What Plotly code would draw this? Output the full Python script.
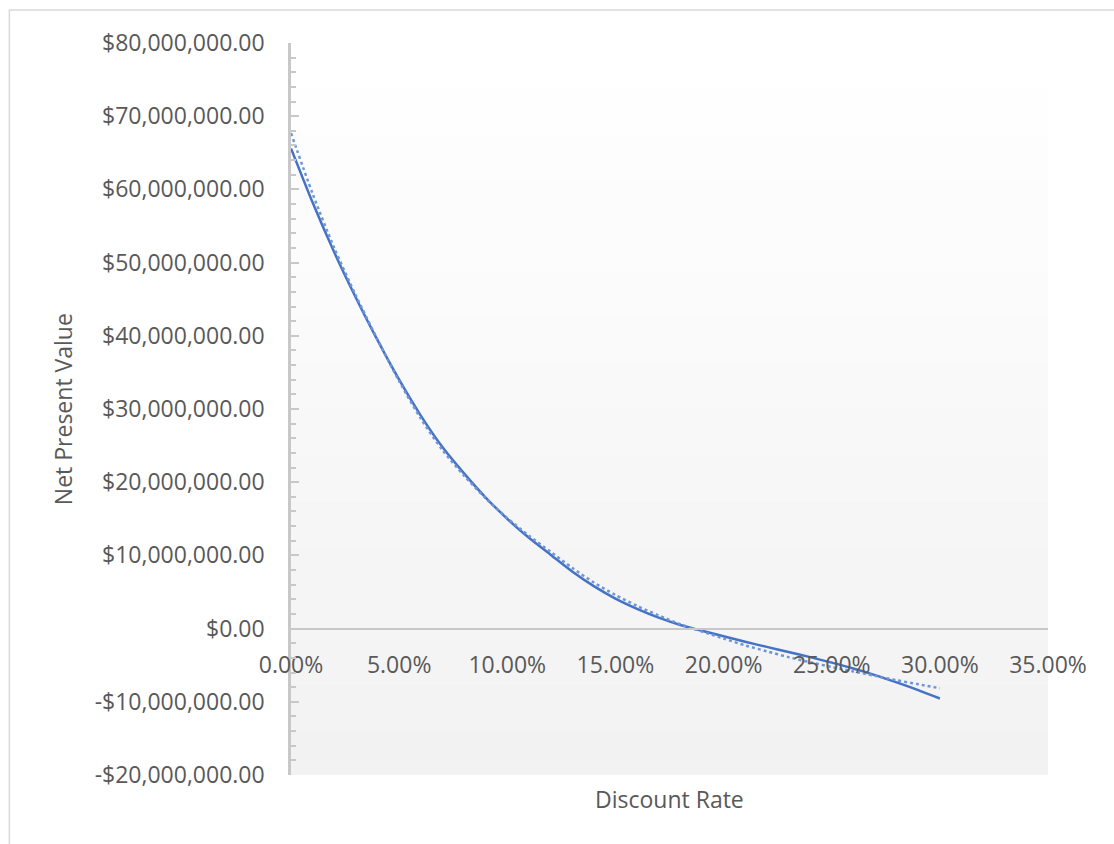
import plotly.graph_objects as go

# Discount rates (fraction) and the resulting net present value, in $ millions
rates = [i / 100 for i in range(0, 31)]
npv_millions = [65.6, 58.2, 51.4, 45.2, 39.4, 34.0, 29.1, 24.8, 21.2, 17.9,
                15.0, 12.4, 10.1, 7.8, 5.8, 4.1, 2.7, 1.5, 0.5, -0.3,
                -1.05, -1.8, -2.5, -3.2, -3.9, -4.65, -5.45, -6.35, -7.35, -8.4,
                -9.55]
# Polynomial trendline of the NPV profile, in $ millions
trend_millions = [67.7, 59.4, 52.0, 45.5, 39.5, 33.8, 28.7, 24.4, 20.9, 17.8,
                  15.1, 12.7, 10.5, 8.3, 6.3, 4.6, 3.1, 1.8, 0.6, -0.4,
                  -1.35, -2.3, -3.1, -3.9, -4.6, -5.25, -5.85, -6.45, -7.05, -7.6,
                  -8.15]
npv = [v * 1e6 for v in npv_millions]
trend = [v * 1e6 for v in trend_millions]

# Axis ticks
x_tickvals = [0.0, 0.05, 0.10, 0.15, 0.20, 0.25, 0.30, 0.35]
x_ticktext = ["0.00%", "5.00%", "10.00%", "15.00%", "20.00%", "25.00%", "30.00%", "35.00%"]
y_tickvals = [-20e6, -10e6, 0, 10e6, 20e6, 30e6, 40e6, 50e6, 60e6, 70e6, 80e6]
y_ticktext = ["-$20,000,000.00", "-$10,000,000.00", "$0.00", "$10,000,000.00",
              "$20,000,000.00", "$30,000,000.00", "$40,000,000.00", "$50,000,000.00",
              "$60,000,000.00", "$70,000,000.00", "$80,000,000.00"]

BLUE = "#4472C4"
TEXT = "#595959"
AXIS = "#c8c8c8"
FONT = "Open Sans"
FS = 23

fig = go.Figure()
fig.add_trace(go.Scatter(x=rates, y=npv, mode="lines",
                         line=dict(color=BLUE, width=2.5, shape="spline", smoothing=0.6),
                         showlegend=False))
fig.add_trace(go.Scatter(x=rates, y=trend, mode="lines",
                         line=dict(color="#6F95D8", width=2.5, dash="dot",
                                   shape="spline", smoothing=0.8),
                         showlegend=False))

# Plot-area fill: vertical gradient from white to light grey
n_bands = 16
shapes = []
for i in range(n_bands):
    t = i / (n_bands - 1)
    c = round(255 - 13 * t)
    shapes.append(dict(type="rect", xref="paper", yref="paper",
                       x0=0, x1=1, y1=1 - i / n_bands, y0=1 - (i + 1) / n_bands,
                       fillcolor=f"rgb({c},{c},{c})", line=dict(width=0),
                       layer="below"))
# Chart border
shapes.append(dict(type="rect", xref="paper", yref="paper",
                   x0=-0.372, x1=1.2, y0=-0.3, y1=1.045,
                   line=dict(color="#d9d9d9", width=1.5), fillcolor="rgba(0,0,0,0)",
                   layer="below"))

fig.update_layout(
    width=1114, height=844,
    margin=dict(l=291, r=66, t=43, b=69),
    paper_bgcolor="white", plot_bgcolor="rgba(0,0,0,0)",
    font=dict(family=FONT, size=FS, color=TEXT),
    shapes=shapes,
    showlegend=False,
    xaxis=dict(range=[0, 0.35], tickvals=x_tickvals, ticktext=x_ticktext,
               showgrid=False, zeroline=False,
               showline=True, linecolor=AXIS, linewidth=2,
               anchor="free", position=0.2,
               ticks="outside", ticklen=16, tickcolor="rgba(0,0,0,0)",
               tickfont=dict(family=FONT, size=FS, color=TEXT)),
    yaxis=dict(range=[-20e6, 80e6], tickvals=y_tickvals, ticktext=y_ticktext,
               showgrid=False, zeroline=False,
               showline=True, linecolor=AXIS, linewidth=2.5,
               ticks="inside", ticklen=8, tickwidth=2, tickcolor=AXIS,
               minor=dict(dtick=2e6, tick0=0, ticks="inside", ticklen=5,
                          tickwidth=1.5, tickcolor=AXIS),
               ticklabelstandoff=19,
               tickfont=dict(family=FONT, size=FS, color=TEXT)),
    annotations=[
        dict(text="Discount Rate", xref="paper", yref="paper", x=0.5, y=-0.033,
             xanchor="center", yanchor="middle", showarrow=False,
             font=dict(family=FONT, size=FS, color=TEXT)),
        dict(text="Net Present Value", xref="paper", yref="paper", x=-0.301, y=0.5,
             xanchor="center", yanchor="middle", textangle=-90, showarrow=False,
             font=dict(family=FONT, size=FS, color=TEXT)),
    ],
)

fig.write_html("out.html")
